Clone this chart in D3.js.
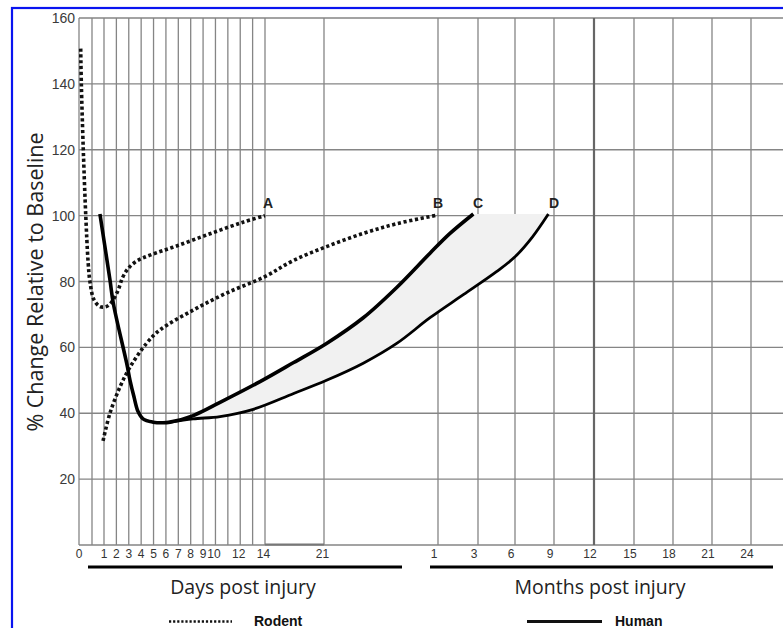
<!DOCTYPE html>
<html>
<head>
<meta charset="utf-8">
<script src="https://cdn.jsdelivr.net/npm/d3@7"></script>
<style>
  html, body { margin: 0; padding: 0; background: #fff; }
  svg { display: block; }
</style>
</head>
<body>
<svg id="chart" width="783" height="628"></svg>
<script>
// Percent-change axis
const yTicks = [20, 40, 60, 80, 100, 120, 140, 160];

// Time axis: days for the first weeks, months afterwards (a month = 30 days)
const dayGrid = [0, 0.5, 1, 2, 3, 4, 5, 6, 7, 8, 9, 10, 11, 12, 13, 14, 21];
const dayLabels = [0, 1, 2, 3, 4, 5, 6, 7, 8, 9, 10, 12, 14, 21];
const monthLabels = [1, 3, 6, 9, 12, 15, 18, 21, 24];

// Rodent recovery curves [days post injury, % of baseline]
const rodentA = [
  [0.065, 150.7], [0.09, 140], [0.165, 120], [0.26, 100], [0.35, 86], [0.42, 80],
  [0.58, 74.5], [0.83, 72.4], [1.1, 72.3], [1.5, 73.2], [2.1, 77], [2.5, 81.2],
  [2.96, 84], [3.64, 86.2], [4.71, 88], [6.87, 90.8], [9.56, 94.5], [12.22, 98], [14, 100]
];
const rodentB = [
  [0.96, 31.6], [1.48, 40], [2.29, 48], [3.1, 54], [4.45, 61.3], [5.52, 65.3],
  [8.19, 71.3], [10.9, 76.5], [14, 81.5], [17.3, 86.3], [21.2, 90.6], [24.1, 94.6],
  [26.8, 97.6], [30, 100.2]
];

// Human recovery: shared early decline, then fast (C) and slow (D) recovery
const humanDecline = [
  [0.83, 100.5], [1.48, 80.5], [1.75, 73.4], [2.83, 55.2], [3.1, 50], [3.42, 45],
  [3.75, 40.5], [4.15, 38.3], [4.96, 37.3], [5.76, 37.1], [6.33, 37.3]
];
const humanC = [
  [6.33, 37.3], [8.21, 39.3], [10.37, 43.3], [13.6, 49.6], [17.4, 55.4], [21.2, 61.2],
  [24.1, 69], [26.74, 78.2], [29.37, 88.6], [48, 94.6], [83, 100.5]
];
const humanD = [
  [6.33, 37.3], [8.19, 38.3], [10.37, 39], [13.05, 41.2], [17.4, 46], [21.2, 50],
  [24.1, 55.2], [26.74, 61.2], [29.37, 69], [68, 76], [135, 83], [180, 87.5],
  [220, 93.5], [257, 100.5]
];

// Curve end labels [name, days]
const endLabels = [["A", 14], ["B", 30], ["C", 90], ["D", 270]];

const svg = d3.select("#chart");
const W = 783, H = 628;

// Broken time scale: days 0-21 then months 1-27
const x = d3.scaleLinear()
  .domain([0, 0.5, 1, 14, 21, 30, 90, 180, 270, 360, 450, 540, 630, 720, 810])
  .range([79, 92, 104, 265, 324, 438, 478, 515, 554, 594, 634, 673, 712, 751, 790]);
const y = d3.scaleLinear().domain([0, 160]).range([545, 18]);

svg.append("rect").attr("width", W).attr("height", H).attr("fill", "#fff");

// Grid
const grid = svg.append("g");
grid.selectAll("line.h").data([0].concat(yTicks)).join("line")
  .attr("x1", x(0)).attr("x2", W)
  .attr("y1", d => y(d)).attr("y2", d => y(d))
  .attr("stroke", "#858585").attr("stroke-width", 1.3);
const vGrid = dayGrid.concat(monthLabels.map(m => m * 30));
grid.selectAll("line.v").data(vGrid).join("line")
  .attr("x1", d => x(d)).attr("x2", d => x(d))
  .attr("y1", y(160)).attr("y2", y(0))
  .attr("stroke", d => d === 360 ? "#666" : "#858585")
  .attr("stroke-width", d => d === 360 ? 2.2 : 1.3);
grid.append("line")
  .attr("x1", x(14)).attr("x2", x(21)).attr("y1", y(0) - 0.5).attr("y2", y(0) - 0.5)
  .attr("stroke", "#777").attr("stroke-width", 2);

// Y tick labels
svg.append("g").selectAll("text").data(yTicks).join("text")
  .attr("x", 75).attr("y", d => y(d)).attr("dy", "0.36em")
  .attr("text-anchor", "end")
  .attr("font-family", "Liberation Sans, Arial, sans-serif")
  .attr("font-size", 14).attr("fill", "#3a3a3a")
  .text(d => d);

// X tick labels
const tickFont = "Liberation Sans, Arial, sans-serif";
svg.append("g").selectAll("text").data(dayLabels).join("text")
  .attr("x", d => x(d) - (d >= 10 ? 1.5 : 0)).attr("y", 558)
  .attr("text-anchor", "middle")
  .attr("font-family", tickFont).attr("font-size", 12).attr("fill", "#333")
  .text(d => d);
svg.append("g").selectAll("text").data(monthLabels).join("text")
  .attr("x", d => x(d * 30) - 4).attr("y", 558)
  .attr("text-anchor", "middle")
  .attr("font-family", tickFont).attr("font-size", 12).attr("fill", "#333")
  .text(d => d);

// Axis section bars and titles
svg.append("line").attr("x1", 88).attr("x2", 402).attr("y1", 567).attr("y2", 567)
  .attr("stroke", "#000").attr("stroke-width", 3);
svg.append("line").attr("x1", 430).attr("x2", 773).attr("y1", 567).attr("y2", 567)
  .attr("stroke", "#000").attr("stroke-width", 3);
const titleFont = "Open Sans, sans-serif";
svg.append("text").attr("x", 243).attr("y", 594).attr("text-anchor", "middle")
  .attr("font-family", titleFont).attr("font-size", 19.5).attr("fill", "#222")
  .text("Days post injury");
svg.append("text").attr("x", 600).attr("y", 594).attr("text-anchor", "middle")
  .attr("font-family", titleFont).attr("font-size", 19.5).attr("fill", "#222")
  .text("Months post injury");
svg.append("text")
  .attr("transform", "translate(43,282) rotate(-90)")
  .attr("text-anchor", "middle")
  .attr("font-family", titleFont).attr("font-size", 21.5).attr("fill", "#222")
  .text("% Change Relative to Baseline");

// Curves
const line = d3.line().x(d => x(d[0])).y(d => y(d[1])).curve(d3.curveCatmullRom.alpha(0.5));
const humanAll = humanDecline.concat(humanC.slice(1));

// Shaded band between the two human recovery paths
const pC = svg.append("path").attr("d", line(humanC)).attr("fill", "none");
const pD = svg.append("path").attr("d", line(humanD)).attr("fill", "none");
function sample(p) {
  const n = p.node(), L = n.getTotalLength(), pts = [];
  for (let i = 0; i <= 200; i++) { const q = n.getPointAtLength(L * i / 200); pts.push([q.x, q.y]); }
  return pts;
}
const band = sample(pC).concat(sample(pD).reverse());
pC.remove(); pD.remove();
svg.append("path").attr("d", "M" + band.join("L") + "Z")
  .attr("fill", "#f1f1f1").attr("stroke", "none");

[rodentA, rodentB].forEach(s => {
  svg.append("path").attr("d", line(s))
    .attr("fill", "none").attr("stroke", "#111").attr("stroke-width", 3.6)
    .attr("stroke-dasharray", "3.2,2.6");
});
svg.append("path").attr("d", line(humanAll))
  .attr("fill", "none").attr("stroke", "#000").attr("stroke-width", 3.6)
  .attr("stroke-linejoin", "round");
svg.append("path").attr("d", line(humanD))
  .attr("fill", "none").attr("stroke", "#000").attr("stroke-width", 2.8);

// End labels
svg.append("g").selectAll("text").data(endLabels).join("text")
  .attr("x", d => x(d[1]) + (d[0] === "A" ? 3 : 0)).attr("y", y(100) - 8)
  .attr("text-anchor", "middle")
  .attr("font-family", "Liberation Sans, Arial, sans-serif")
  .attr("font-weight", "bold").attr("font-size", 14).attr("fill", "#222")
  .text(d => d[0]);

// Legend
svg.append("line").attr("x1", 169).attr("x2", 232).attr("y1", 621.5).attr("y2", 621.5)
  .attr("stroke", "#111").attr("stroke-width", 2.4).attr("stroke-dasharray", "2.2,1.9");
svg.append("text").attr("x", 254).attr("y", 625.5)
  .attr("font-family", "Liberation Sans, Arial, sans-serif")
  .attr("font-weight", "bold").attr("font-size", 14).attr("fill", "#111").text("Rodent");
svg.append("line").attr("x1", 527).attr("x2", 602).attr("y1", 621.5).attr("y2", 621.5)
  .attr("stroke", "#111").attr("stroke-width", 3);
svg.append("text").attr("x", 615).attr("y", 625.5)
  .attr("font-family", "Liberation Sans, Arial, sans-serif")
  .attr("font-weight", "bold").attr("font-size", 14).attr("fill", "#111").text("Human");

// Frame
svg.append("rect").attr("x", 12).attr("y", 8).attr("width", 900).attr("height", 900)
  .attr("fill", "none").attr("stroke", "#0a14f0").attr("stroke-width", 2.2);
</script>
</body>
</html>
